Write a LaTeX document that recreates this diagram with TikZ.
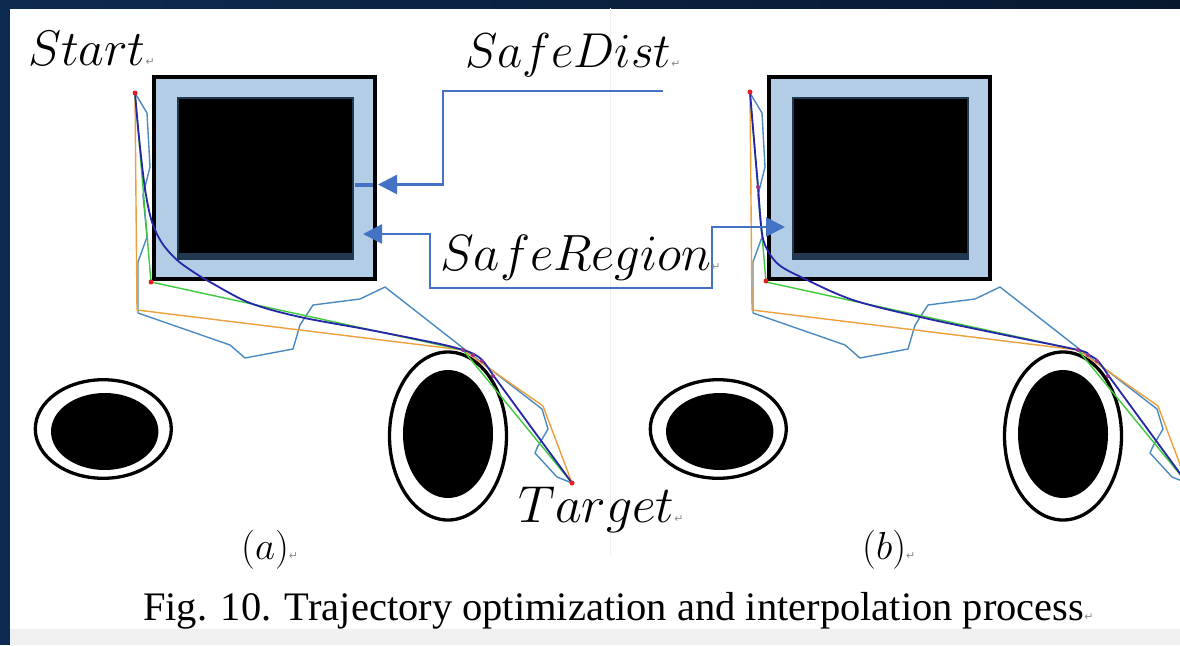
\RequirePackage{fix-cm}
\documentclass[tikz,border=0pt]{standalone}
\usepackage{fontspec}
\newfontfamily\capfont{Liberation Serif}
\newfontfamily\marksfont{DejaVu Sans}
\usetikzlibrary{arrows.meta}

\definecolor{bandblue}{HTML}{B4CDE6}
\definecolor{slate}{HTML}{22384F}
\definecolor{callout}{HTML}{4472C4}
\definecolor{pathorange}{HTML}{EFA03C}
\definecolor{pathgreen}{HTML}{3CCB3C}
\definecolor{pathnavy}{HTML}{2626A8}
\definecolor{pathteal}{HTML}{4A8AC0}
\definecolor{dotred}{HTML}{E02020}
\definecolor{dotpurple}{HTML}{A0308A}
\definecolor{framenavy}{HTML}{0D2A50}
\definecolor{framedark}{HTML}{07182E}
\definecolor{pagegray}{HTML}{F0F0F0}

% paragraph mark that follows every text line
\newcommand\pmark{{\color{black!45}\marksfont\fontsize{11}{11}\selectfont\symbol{"21B5}}}

\tikzset{
  safebox/.style={draw=black, line width=4pt, fill=bandblue},
  ring/.style={draw=black, line width=3.3pt},
  traj/.style={line width=1.4pt, line join=round},
  calltip/.tip={Triangle[length=19pt,width=19pt]},
  callline/.style={draw=callout, line width=2.6pt},
  mathlabel/.style={anchor=base west, inner sep=0pt},
  redpt/.style={circle, fill=dotred, inner sep=0pt, minimum size=5pt},
  purplept/.style={circle, fill=dotpurple, inner sep=0pt, minimum size=4pt},
}

% obstacles and the raw / pruned trajectories shared by both panels
\newcommand\obstaclepaths{%
  % square obstacle with its safety band
  \draw[safebox] (153.7,77) rectangle (375,278.7);
  \fill[slate] (176.5,96.5) rectangle (354,260);
  \fill[black] (178.5,98.5) rectangle (351.5,253);
  % left ellipse obstacle
  \draw[ring] (103.3,429) ellipse [x radius=68, y radius=49.3];
  \fill[black] (104.7,431.5) ellipse [x radius=53.7, y radius=38.5];
  % middle ellipse obstacle
  \draw[ring] (448,436) ellipse [x radius=58.5, y radius=84];
  \fill[black] (448,434) ellipse [x radius=45, y radius=64];
  % raw sampled path
  \draw[traj, pathteal] (135,93) -- (147,113) -- (150,167) -- (143,195)
    -- (147,237) -- (138,262) -- (138,313) -- (230,345) -- (245,358)
    -- (293,349) -- (300,325) -- (313,305) -- (360,299) -- (385,287)
    -- (463,348) -- (542,409) -- (548,429) -- (538,446) -- (535,453)
    -- (557,477) -- (572,483);
  % coarse path
  \draw[traj, pathorange] (135,93) -- (137,310) -- (463,350) -- (543,406) -- (572,483);
  % pruned path
  \draw[traj, pathgreen] (135,93) -- (151,282) -- (463,350) -- (572,483);
}

\begin{document}
\begin{tikzpicture}[x=1pt, y=-1pt]
  \useasboundingbox (0,0) rectangle (1180,645);
  % page and frame
  \fill[white] (0,0) rectangle (1180,645);
  \shade[left color=framenavy, right color=framedark] (0,0) rectangle (1180,8);
  \fill[framenavy] (0,0) rectangle (10,645);
  \fill[pagegray] (10,629) rectangle (1180,645);
  \draw[black!6, line width=0.8pt] (610,8) -- (610,555);

  % panel (a)
  \obstaclepaths
  \draw[pathnavy, line width=1.8pt, line join=round]
    plot[smooth, tension=0.55] coordinates {(135,93) (138,127) (142,165) (146,195)
      (152,222) (162,243) (177,260) (195,273) (210,282) (250,303) (300,317)
      (370,330) (440,344) (463,350) (474,354) (483,361) (493,375)}
    -- (572,483);
  \foreach \p in {(463,350),(473,355),(482,361),(493,376)}
    \node[purplept] at \p {};
  \node[redpt] (startA) at (135,93) {};
  \node[redpt] (cornerA) at (151,282) {};
  \node[redpt] (targetA) at (572,483) {};

  % panel (b)
  \begin{scope}
    \clip (10,8) rectangle (1180,629);
    \begin{scope}[xshift=615pt]
      \obstaclepaths
    \end{scope}
    \draw[pathnavy, line width=1.8pt, line join=round]
      plot[smooth, tension=0.55] coordinates {(750,92) (754,140) (758,187)
        (761,225) (765,245) (778,264) (803,278) (853,300) (920,317)
        (1000,334) (1078,350) (1089,355) (1098,361) (1108,375)}
      -- (1187,483);
    \foreach \p in {(758,187),(1078,350),(1088,355),(1097,361),(1108,376)}
      \node[purplept] at \p {};
    \node[redpt] (startB) at (750,92) {};
    \node[redpt] (cornerB) at (766,281) {};
  \end{scope}

  % safe distance callout
  \draw[callout, line width=4pt] (355,184.5) -- (373,184.5);
  \coordinate (distFrom) at (663,91);
  \coordinate (distBend) at (443,184.5);
  \coordinate (distTip) at (378,184.5);
  \draw[callline, -{calltip}] (distFrom) -| (distBend) -- (distTip);

  % safe region callout
  \coordinate (regionTipA) at (363,234);
  \coordinate (regionTipB) at (785,227);
  \draw[callline, {calltip}-{calltip}] (regionTipA) -- (430,234) |- (712,288) |- (regionTipB);

  % labels
  \node[mathlabel, font=\fontsize{50}{50}\selectfont] (start) at (28,65) {$Start$\pmark};
  \node[mathlabel, font=\fontsize{49}{49}\selectfont] (safedist) at (465,67) {$SafeDist$\pmark};
  \node[mathlabel, font=\fontsize{51}{51}\selectfont] (saferegion) at (440,270) {$SafeRegion$\pmark};
  \node[mathlabel, font=\fontsize{52}{52}\selectfont] (target) at (518,522) {$Target$\pmark};
  \node[mathlabel, font=\fontsize{39}{39}\selectfont] (capA) at (241,559) {$(a)$\pmark};
  \node[mathlabel, font=\fontsize{39}{39}\selectfont] (capB) at (862,559) {$(b)$\pmark};
  \node[mathlabel, font=\capfont\fontsize{40.5}{40.5}\selectfont] (caption) at (143,620)
    {Fig. 10. Trajectory optimization and interpolation process\pmark};
\end{tikzpicture}
\end{document}
